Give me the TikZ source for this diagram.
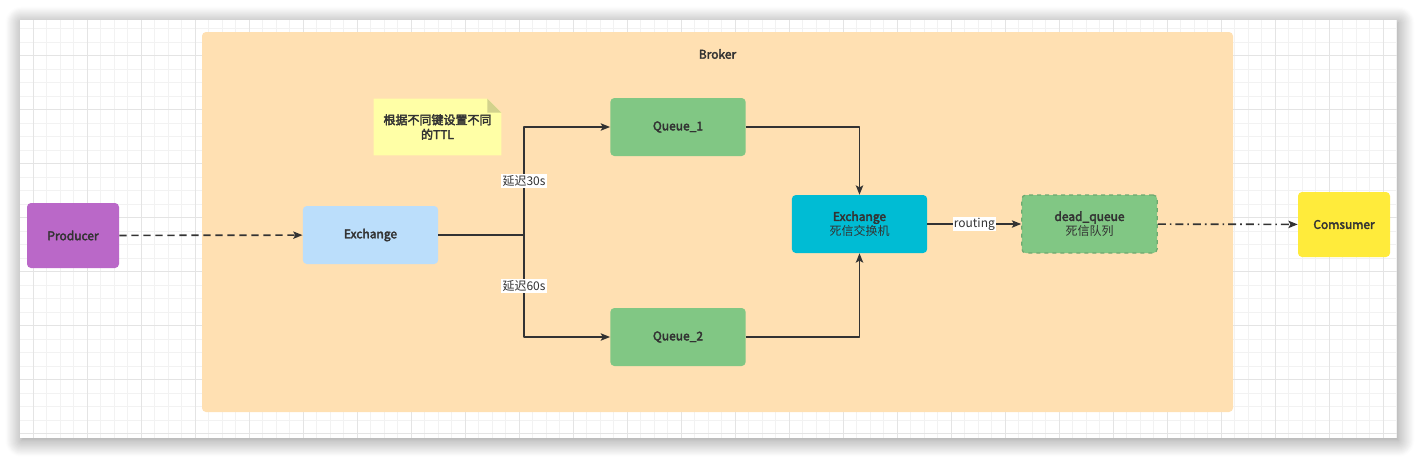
\documentclass[tikz,border=0pt]{standalone}
\usepackage{fontspec}
\setmainfont{Noto Sans CJK SC}[AutoFakeBold=3]
\usetikzlibrary{arrows.meta,shadows.blur,positioning}
\definecolor{ink}{HTML}{333333}
\definecolor{brokerbg}{HTML}{FFE0B2}
\definecolor{prodbg}{HTML}{BA68C8}
\definecolor{exbg}{HTML}{BBDEFB}
\definecolor{qbg}{HTML}{81C784}
\definecolor{dxbg}{HTML}{00BCD4}
\definecolor{consbg}{HTML}{FFEB3B}
\definecolor{notebg}{HTML}{FFFFA6}
\definecolor{notefold}{HTML}{D2D28C}
\definecolor{gridmin}{HTML}{F2F2F2}
\definecolor{gridmaj}{HTML}{E4E4E4}
\begin{document}
\begin{tikzpicture}[x=0.75pt,y=-0.75pt,line join=round,>={Stealth[length=7pt,width=5.5pt,inset=1.5pt]},font=\fontsize{9}{11}\selectfont]
			\tikzset{every node/.style={text=ink},
				box/.style={rounded corners=3pt,minimum width=101.5pt,minimum height=43.5pt,inner sep=1pt,align=center},
				side/.style={box,minimum width=69pt,minimum height=48.75pt},
				conn/.style={draw=ink,line width=1.25pt},
				tag/.style={fill=white,inner sep=1pt,font=\fontsize{9}{10}\selectfont}}
			\useasboundingbox (0,0) rectangle (1417,458);
			% card with grid
			\fill[white,blur shadow={shadow xshift=1pt,shadow yshift=-2pt,shadow blur radius=12pt,shadow blur steps=16,shadow opacity=45}] (20,20) rectangle (1397,438);
			\begin{scope}
				\clip (20,20) rectangle (1397,438);
				\foreach \gx in {33.3,46.8,...,1398} \draw[gridmin,line width=0.75pt] (\gx,20)--(\gx,438);
				\foreach \gy in {28.5,42,...,439} \draw[gridmin,line width=0.75pt] (20,\gy)--(1397,\gy);
				\foreach \gx in {33.3,87.3,...,1398} \draw[gridmaj,line width=0.75pt] (\gx,20)--(\gx,438);
				\foreach \gy in {55.5,109.5,...,439} \draw[gridmaj,line width=0.75pt] (20,\gy)--(1397,\gy);
			\end{scope}
			% broker area
			\node[fill=brokerbg,rounded corners=3pt,minimum width=773.25pt,minimum height=285pt] (broker) at (717.5,222) {};
			\node[font=\fontsize{9}{11}\selectfont\bfseries] (brokerlabel) at (717.5,54) {Broker};
			% note
			\node[minimum width=95.25pt,minimum height=42pt,align=center,font=\fontsize{9}{11}\selectfont\bfseries] (note) at (437.5,127) {};
			\fill[notebg] (note.south west)--(note.north west)--([xshift=-10.5pt]note.north east)--([yshift=-10.5pt]note.north east)--(note.south east)--cycle;
			\fill[notefold] ([xshift=-10.5pt]note.north east)--([xshift=-10.5pt,yshift=-10.5pt]note.north east)--([yshift=-10.5pt]note.north east)--cycle;
			\node[align=center,font=\fontsize{9}{11}\selectfont\bfseries] (notetext) at (note) {根据不同键设置不同\\的TTL};
			% boxes
			\node[side,fill=prodbg,font=\fontsize{9}{11}\selectfont\bfseries] (prod) at (73,235.5) {Producer};
			\node[box,fill=exbg,font=\fontsize{9}{11}\selectfont\bfseries] (ex) at (370.5,235) {Exchange};
			\node[box,fill=qbg,font=\fontsize{9}{11}\selectfont\bfseries] (q1) at (678,127) {Queue\_1};
			\node[box,fill=qbg,font=\fontsize{9}{11}\selectfont\bfseries] (q2) at (678,337) {Queue\_2};
			\node[box,fill=dxbg] (dx) at (859.5,224) {\textbf{Exchange}\\死信交换机};
			\node[box,fill=qbg,draw=qbg!85!black,dashed,line width=0.9pt] (dq) at (1089.5,224) {\textbf{dead\_queue}\\死信队列};
			\node[side,fill=consbg,font=\fontsize{9}{11}\selectfont\bfseries] (cons) at (1344,224.5) {Comsumer};
			% connectors
			\coordinate (split) at (524,235);
			\draw[conn,->,dash pattern=on 5.5pt off 3.5pt] (prod) -- (ex);
			\draw[conn] (ex) -- (split);
			\draw[conn,->] (split) |- node[tag,pos=0.25] (d30) {延迟30s} (q1);
			\draw[conn,->] (split) |- node[tag,pos=0.25] (d60) {延迟60s} (q2);
			\draw[conn,->] (q1) -| (dx);
			\draw[conn,->] (q2) -| (dx);
			\draw[conn,->] (dx) -- node[tag] (route) {routing} (dq);
			\draw[conn,->,dash pattern=on 6pt off 3pt on 1.2pt off 3pt] (dq) -- (cons);
		\end{tikzpicture}
\end{document}
